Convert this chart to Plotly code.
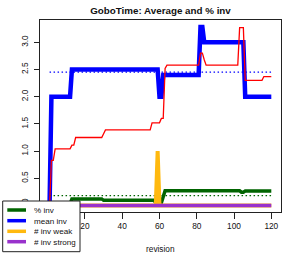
import plotly.graph_objects as go

revisions = list(range(1, 121))

pct_inv = [0.0] + [0.03] * 11 + [0.12] * 17 + [0.095] * 28 + [0.05] * 4 + [0.16] + \
    [0.27] * 19 + [0.285] * 3 + [0.27] * 19 + [0.245] * 2 + [0.265] * 15

mean_inv = [0.0] + [2.0] * 11 + [2.5] * 47 + [2.0] * 2 + [2.4] * 20 + [3.28] * 2 + \
    [3.0] * 22 + [2.0] * 15

red_line = [0.0] + [0.83] * 2 + [1.04] * 9 + [1.11] * 2 + [1.25] * 15 + [1.32] + \
    [1.39] * 25 + [1.52] * 5 + [1.60] * 2 + [2.52] + [2.58] * 18 + [2.80] * 2 + [2.68] + \
    [2.58] * 18 + [3.27] * 3 + [2.30] * 10 + [2.37] * 5

inv_weak = [0.0] * 58 + [1.0] + [0.0] * 61
inv_strong = [0.0] * 120

mean_inv_avg = 2.45
pct_inv_avg = 0.18

x_ticks = [0, 20, 40, 60, 80, 100, 120]
y_ticks = [0.0, 0.5, 1.0, 1.5, 2.0, 2.5, 3.0]
y_ticktext = ["0.0", "0.5", "1.0", "1.5", "2.0", "2.5", "3.0"]

legend_labels = ["% inv", "mean inv", "# inv weak", "# inv strong"]

GREEN = "#006400"
BLUE = "#0000FF"
ORANGE = "#FFB90F"
PURPLE = "#9932CC"
RED = "#FF0000"
FONT = "Liberation Sans, Arial, Helvetica, sans-serif"

W, H = 294, 254
L, R, T, B = 40, 13, 20, 42
PW, PH = W - L - R, H - T - B


def px_x(p):
    return (p - L) / PW


def px_y(p):
    return (H - B - p) / PH


fig = go.Figure()
fig.add_trace(go.Scatter(x=revisions, y=pct_inv, mode="lines",
                         line=dict(color=GREEN, width=3.5), showlegend=False))
fig.add_trace(go.Scatter(x=revisions, y=mean_inv, mode="lines",
                         line=dict(color=BLUE, width=4.5), showlegend=False))
fig.add_trace(go.Scatter(x=[revisions[0], revisions[-1]], y=[mean_inv_avg, mean_inv_avg],
                         mode="lines", line=dict(color=BLUE, width=1.2, dash="1.5px,2.5px"),
                         showlegend=False))
fig.add_trace(go.Scatter(x=[revisions[0], revisions[-1]], y=[pct_inv_avg, pct_inv_avg],
                         mode="lines", line=dict(color=GREEN, width=1.2, dash="1.5px,2.5px"),
                         showlegend=False))
fig.add_trace(go.Scatter(x=revisions, y=red_line, mode="lines",
                         line=dict(color=RED, width=1.3), showlegend=False))
fig.add_trace(go.Scatter(x=revisions, y=inv_weak, mode="lines",
                         line=dict(color=ORANGE, width=4), showlegend=False))
fig.add_trace(go.Scatter(x=revisions, y=inv_strong, mode="lines",
                         line=dict(color=PURPLE, width=3.5), showlegend=False))

shapes = [dict(type="rect", xref="paper", yref="paper", layer="above",
               x0=px_x(2.7), x1=px_x(80), y0=px_y(251.7), y1=px_y(201),
               fillcolor="white", line=dict(color="#222", width=1))]
annotations = []
rows = [210, 220.7, 231.3, 241.7]
colors = [GREEN, BLUE, ORANGE, PURPLE]
for label, c, ry in zip(legend_labels, colors, rows):
    shapes.append(dict(type="line", xref="paper", yref="paper", layer="above",
                       x0=px_x(7.3), x1=px_x(26), y0=px_y(ry), y1=px_y(ry),
                       line=dict(color=c, width=3.5)))
    annotations.append(dict(xref="paper", yref="paper", x=px_x(32.5), y=px_y(ry),
                            xanchor="left", yanchor="middle", showarrow=False,
                            borderpad=0, height=10,
                            text=label, font=dict(family=FONT, size=8.1, color="#111")))

annotations.append(dict(xref="paper", yref="paper", x=0.5, y=px_y(249),
                        xanchor="center", yanchor="middle", showarrow=False,
                        text="revision", font=dict(family=FONT, size=8.3, color="#111")))

fig.update_layout(
    width=W, height=H,
    margin=dict(l=L, r=R, t=T, b=B, pad=0),
    paper_bgcolor="white", plot_bgcolor="white",
    title=dict(text="<b>GoboTime: Average and % inv</b>", x=px_x(160.5), xref="paper",
               xanchor="center", y=1 - 10.5 / H, yref="container", yanchor="middle",
               font=dict(family=FONT, size=9.8, color="#111")),
    font=dict(family=FONT, size=8.3, color="#111"),
    shapes=shapes, annotations=annotations,
    showlegend=False,
    xaxis=dict(range=[-4.13, 125.2], tickvals=x_ticks, ticks="outside", ticklen=6,
               tickcolor="#222", showgrid=False, zeroline=False, showline=True,
               linecolor="#222", linewidth=1, mirror=True,
               tickfont=dict(family=FONT, size=8.3, color="#111")),
    yaxis=dict(range=[-0.12, 3.41], tickvals=y_ticks, ticktext=y_ticktext,
               ticks="outside", ticklen=5, tickcolor="#222", tickangle=-90,
               ticklabelstandoff=3,
               showgrid=False, zeroline=False, showline=True, linecolor="#222",
               linewidth=1, mirror=True,
               tickfont=dict(family=FONT, size=8.3, color="#111")),
)

fig.write_html("out.html", config={"displayModeBar": False},
               post_script="document.body.style.margin='0';document.body.style.padding='0';")
